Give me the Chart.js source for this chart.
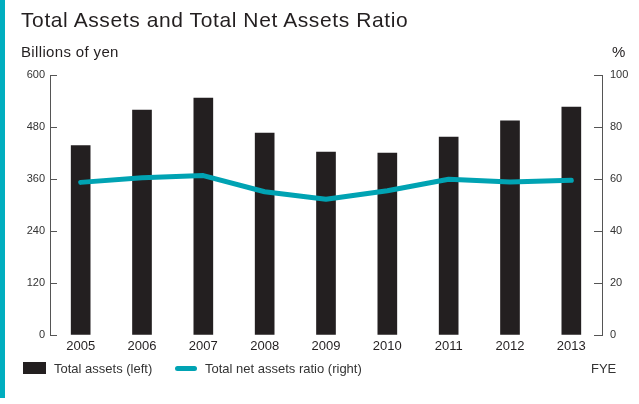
<!DOCTYPE html>
<html>
<head>
<meta charset="utf-8">
<script src="https://cdn.jsdelivr.net/npm/chart.js@4"></script>
<style>
  body{margin:0;background:#fff;font-family:"Liberation Sans",Arial,sans-serif;}
  #wrap{position:relative;width:639px;height:404px;overflow:hidden;}
  #bar{position:absolute;left:0;top:0;width:5px;height:398px;background:#00AEBF;}
  canvas{position:absolute;left:0;top:0;}
  .txt{position:absolute;line-height:1;white-space:nowrap;color:#231F20;}
  .title{left:21px;top:9px;font-size:21px;letter-spacing:0.6px;}
  .unit{top:44px;font-size:15px;letter-spacing:0.35px;}
  .leg{top:362px;font-size:13px;color:#333;}
  .box{position:absolute;left:23px;top:362px;width:23px;height:12px;background:#231F20;}
  .sw{position:absolute;left:175px;top:366px;width:22px;height:5px;border-radius:3px;background:#00A3B3;}
</style>
</head>
<body>
<div id="wrap">
  <div id="bar"></div>
  <canvas id="c" width="639" height="404"></canvas>
  <div class="txt title">Total Assets and Total Net Assets Ratio</div>
  <div class="txt unit" style="left:21px">Billions of yen</div>
  <div class="txt unit" style="left:612px">%</div>
  <div class="box"></div>
  <div class="txt leg" style="left:54px">Total assets (left)</div>
  <div class="sw"></div>
  <div class="txt leg" style="left:205px">Total net assets ratio (right)</div>
  <div class="txt leg" style="left:591px">FYE</div>
</div>
<script>
let years=["2005","2006","2007","2008","2009","2010","2011","2012","2013"];
let totalAssets=[437,519,547,466,422,420,457,494,526];
let netAssetsRatio=[58.7,60.5,61.3,55.1,52.2,55.5,59.9,58.8,59.5];
let leftTicks=[0,120,240,360,480,600];
let rightTicks=[0,20,40,60,80,100];

// short ticks drawn on the inner side of both axes
const innerTicks={
  id:'innerTicks',
  afterDraw:(chart)=>{
    let ctx=chart.ctx;
    let area=chart.chartArea;
    ctx.save();
    ctx.strokeStyle='#555';
    ctx.lineWidth=1;
    leftTicks.forEach(v=>{
      let y=Math.round(chart.scales.y.getPixelForValue(v))+0.5;
      ctx.beginPath();ctx.moveTo(area.left,y);ctx.lineTo(area.left+7,y);ctx.stroke();
    });
    rightTicks.forEach(v=>{
      let y=Math.round(chart.scales.y1.getPixelForValue(v))+0.5;
      ctx.beginPath();ctx.moveTo(area.right-8,y);ctx.lineTo(area.right,y);ctx.stroke();
    });
    ctx.restore();
  }
};

new Chart(document.getElementById('c'),{
  type:'bar',
  data:{
    labels:years,
    datasets:[{
      type:'line',
      label:'Total net assets ratio (right)',
      data:netAssetsRatio,
      yAxisID:'y1',
      borderColor:'#00A3B3',
      borderWidth:5,
      pointRadius:0,
      tension:0,
      borderCapStyle:'round',
      borderJoinStyle:'round',
      order:0
    },{
      type:'bar',
      label:'Total assets (left)',
      data:totalAssets,
      yAxisID:'y',
      backgroundColor:'#231F20',
      barThickness:19,
      order:1
    }]
  },
  options:{
    responsive:false,
    animation:false,
    devicePixelRatio:1,
    layout:{padding:{top:75,bottom:0,left:0,right:0}},
    plugins:{legend:{display:false},title:{display:false},tooltip:{enabled:false}},
    scales:{
      x:{
        offset:true,
        grid:{display:false},
        border:{display:false},
        ticks:{color:'#231F20',font:{family:'Liberation Sans',size:13},padding:-4,maxRotation:0,autoSkip:false},
        afterFit:(s)=>{s.height=69;}
      },
      y:{
        position:'left',
        min:0,max:600,
        afterBuildTicks:(s)=>{s.ticks=leftTicks.map(v=>({value:v}));},
        grid:{drawOnChartArea:false,drawTicks:false},
        border:{color:'#555',width:1},
        ticks:{color:'#333',font:{family:'Liberation Sans',size:11},padding:5},
        afterFit:(s)=>{s.width=50;}
      },
      y1:{
        position:'right',
        min:0,max:100,
        afterBuildTicks:(s)=>{s.ticks=rightTicks.map(v=>({value:v}));},
        grid:{drawOnChartArea:false,drawTicks:false},
        border:{color:'#555',width:1},
        ticks:{color:'#333',font:{family:'Liberation Sans',size:11},padding:8},
        afterFit:(s)=>{s.width=37;}
      }
    }
  },
  plugins:[innerTicks]
});
</script>
</body>
</html>
